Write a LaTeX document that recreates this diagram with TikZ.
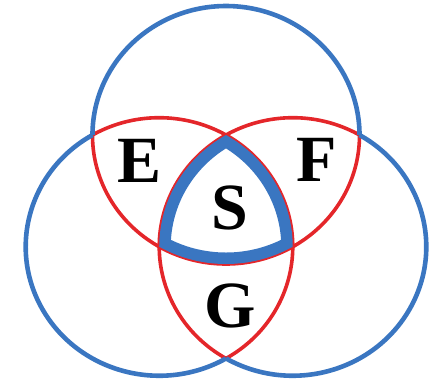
\documentclass[tikz,border=0pt]{standalone}
\usepackage{fontspec}
\setmainfont{Liberation Serif}
\definecolor{vblue}{RGB}{58,118,193}
\definecolor{vred}{RGB}{228,38,42}
\tikzset{
  outer/.style={draw=vblue, line width=4.6pt},
  inner/.style={draw=vred, line width=3.6pt},
  letter/.style={font=\bfseries\fontsize{66}{66}\selectfont, inner sep=0pt}
}
\begin{document}
\begin{tikzpicture}[x=1pt,y=1pt]
\begin{scope}[xscale=1.035]
\useasboundingbox (-218.36,-172.5) rectangle (200.97,209.5);
\coordinate (T) at (0,74.48);
\coordinate (L) at (-64.5,-37.24);
\coordinate (R) at (64.5,-37.24);
% red inner arcs
\path[inner] (T) ++(180:129) arc[start angle=180,end angle=360,radius=129];
\path[inner] (L) ++(-60:129) arc[start angle=-60,end angle=120,radius=129];
\path[inner] (R) ++(60:129) arc[start angle=60,end angle=240,radius=129];
% blue outer arcs
\path[outer] (T) ++(0:129) arc[start angle=0,end angle=180,radius=129];
\path[outer] (L) ++(120:129) arc[start angle=120,end angle=300,radius=129];
\path[outer] (R) ++(-120:129) arc[start angle=-120,end angle=60,radius=129];
% thick inner border of S region
\begin{scope}
\clip (L) arc[start angle=240,end angle=300,radius=129]
      arc[start angle=0,end angle=60,radius=129]
      arc[start angle=120,end angle=180,radius=129] -- cycle;
\draw[vblue, line width=23pt, line join=miter]
      (L) arc[start angle=240,end angle=300,radius=129]
      arc[start angle=0,end angle=60,radius=129]
      arc[start angle=120,end angle=180,radius=129] -- cycle;
\end{scope}
% letters
\node[letter] (E) at (-83.1,48.5) {E};
\node[letter] (F) at (87.9,49.5) {F};
\node[letter] (S) at (3.9,1.5) {S};
\node[letter] (G) at (3.9,-96.5) {G};
\end{scope}
\end{tikzpicture}
\end{document}
